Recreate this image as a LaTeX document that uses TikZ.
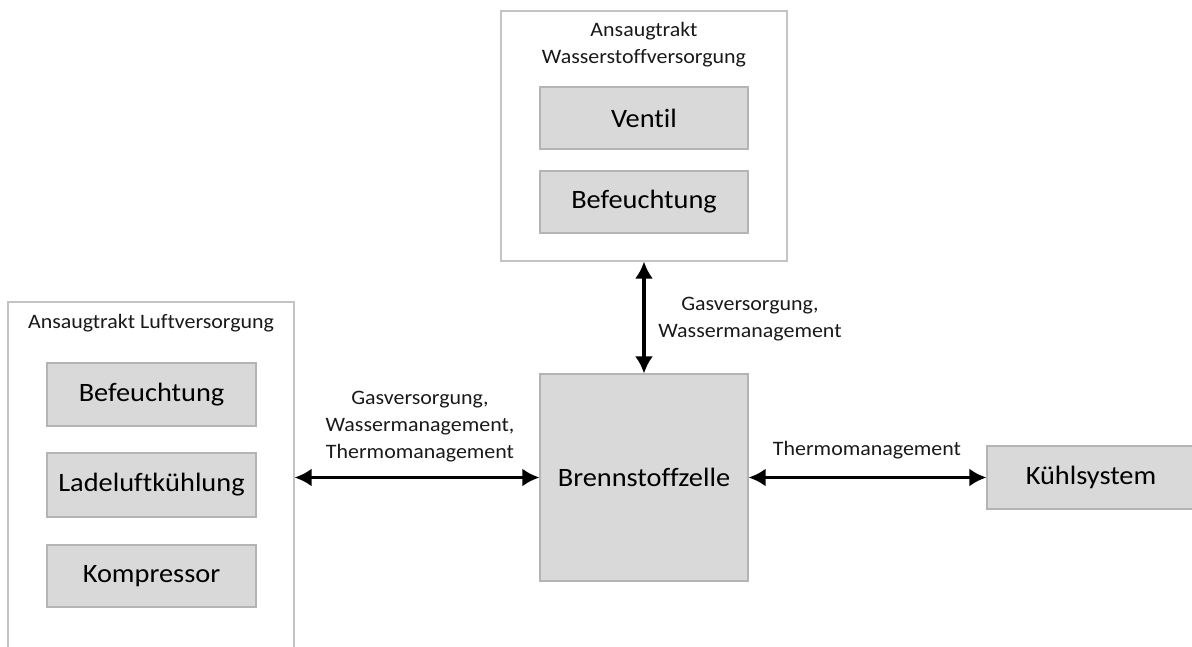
\documentclass[tikz,border=0pt]{standalone}
\usepackage{fontspec}
\setmainfont{Carlito}[FakeStretch=1.07, Ligatures=CommonOff]
\usetikzlibrary{arrows.meta}

\definecolor{boxfill}{HTML}{D9D9D9}
\definecolor{boxline}{HTML}{B4B4B4}
\definecolor{groupline}{HTML}{C4C4C4}

\tikzset{
  group/.style={draw=groupline, fill=white, line width=1.1pt, inner sep=0pt},
  part/.style={draw=boxline, fill=boxfill, line width=1.1pt, inner sep=0pt,
    font=\fontsize{26.5}{30}\selectfont, text=black},
  small/.style={font=\fontsize{20.5}{27}\selectfont, align=center, text=black!90, inner sep=0pt},
  link/.style={line width=3.8pt, {Latex[length=17pt,width=18pt]}-{Latex[length=17pt,width=18pt]}}
}

\begin{document}
\begin{tikzpicture}[x=1pt,y=-1pt]
\useasboundingbox (0,0) rectangle (1192,646);
\clip (0,0) rectangle (1192,646);

% air supply group (runs past the lower edge)
\node[group, minimum width=286pt, minimum height=398pt] (air) at (151,501) {};
\node[small] (airtitle) at (151,323) {Ansaugtrakt Luftversorgung};
\node[part, minimum width=209pt, minimum height=63pt] (airhum) at (151.5,394.5) {Befeuchtung};
\node[part, minimum width=209pt, minimum height=64pt] (aircool) at (151.5,485) {Ladeluftkühlung};
\node[part, minimum width=209pt, minimum height=62pt] (aircomp) at (151.5,576) {Kompressor};

% hydrogen supply group
\node[group, minimum width=286pt, minimum height=250pt] (hyd) at (644,136) {};
\node[small] (hydtitle) at (644,45) {Ansaugtrakt\\Wasserstoffversorgung};
\node[part, minimum width=208pt, minimum height=62pt] (valve) at (644,118) {Ventil};
\node[part, minimum width=208pt, minimum height=62pt] (hydhum) at (644,202) {Befeuchtung};

% fuel cell and cooling
\node[part, minimum width=208pt, minimum height=207pt] (fc) at (644,477.5) {Brennstoffzelle};
\node[part, minimum width=208pt, minimum height=63pt] (cool) at (1091,477.5) {Kühlsystem};

% connections
\draw[link] (hyd.south) -- (fc.north);
\draw[link] (fc.west -| air.east) -- (fc.west);
\draw[link] (fc.east) -- (cool.west);

% connection labels
\node[small] (lblhyd) at (750,319) {Gasversorgung,\\Wassermanagement};
\node[small] (lblair) at (420,427) {Gasversorgung,\\Wassermanagement,\\Thermomanagement};
\node[small] (lblcool) at (867,450) {Thermomanagement};
\end{tikzpicture}
\end{document}
